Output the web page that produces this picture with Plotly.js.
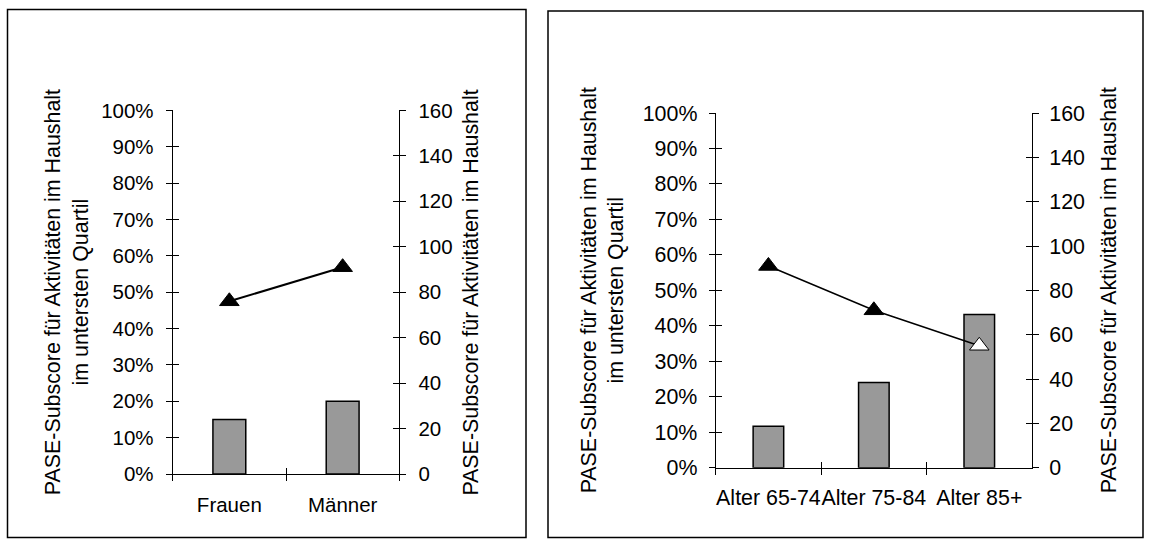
<!DOCTYPE html>
<html>
<head>
<meta charset="utf-8">
<script src="https://cdn.plot.ly/plotly-3.0.1.min.js"></script>
<style>
  html, body { margin: 0; padding: 0; background: #ffffff; }
  #chart { width: 1150px; height: 544px; }
</style>
</head>
<body>
<div id="chart"></div>
<script>
// Panel 1: Geschlecht
const sexCategories = ['Frauen', 'Männer'];
const sexQuartilPct = [15, 20];          // Anteil im untersten Quartil (%)
const sexSubscore = [76, 91];            // PASE-Subscore Haushalt

// Panel 2: Altersgruppen
const ageCategories = ['Alter 65-74', 'Alter 75-84', 'Alter 85+'];
const ageQuartilPct = [11.7, 24, 43.2];  // Anteil im untersten Quartil (%)
const ageSubscore = [91, 71, 55];        // PASE-Subscore Haushalt
const ageMarkerFill = ['black', 'black', 'white'];

const titleLeft = 'PASE-Subscore für Aktivitäten im Haushalt<br>im untersten Quartil';
const titleRight = 'PASE-Subscore für Aktivitäten im Haushalt';

// pixel -> paper helpers (margins are zero, so paper == page)
const W = 1150, H = 544;
const fx = v => v / W;
const fy = v => 1 - v / H;

const FONT = '"Liberation Sans", Arial, sans-serif';
const tickFontA = { family: FONT, size: 20.5, color: '#000000' };
const tickFontB = { family: FONT, size: 21.4, color: '#000000' };
const titleFont = { family: FONT, size: 21.4, color: '#000000' };

function mainAxis(extra) {
  return Object.assign({
    showgrid: false, zeroline: false,
    showline: true, linecolor: '#000000', linewidth: 1,
    ticks: 'outside', ticklen: 6, tickwidth: 1, tickcolor: '#000000',
    tickfont: tickFontA, tickangle: 0, automargin: false, fixedrange: true
  }, extra);
}
// second set of ticks pointing inward, so tick marks cross the axis line
function innerTicks(extra) {
  return Object.assign({
    showgrid: false, zeroline: false, showline: false,
    ticks: 'inside', ticklen: 6, tickwidth: 1, tickcolor: '#000000',
    showticklabels: false, automargin: false, fixedrange: true
  }, extra);
}
// empty trace that only registers an axis pair so its ticks get drawn
const tickHolder = (xa, ya) => ({
  type: 'scatter', mode: 'markers', x: [], y: [], xaxis: xa, yaxis: ya,
  hoverinfo: 'skip', showlegend: false
});

const traces = [
  {
    type: 'bar', x: sexCategories, y: sexQuartilPct,
    xaxis: 'x', yaxis: 'y',
    marker: { color: '#999999', line: { color: '#000000', width: 1.5 } },
    hoverinfo: 'skip'
  },
  {
    type: 'scatter', mode: 'lines+markers', x: sexCategories, y: sexSubscore,
    xaxis: 'x', yaxis: 'y2',
    line: { color: '#000000', width: 2 },
    marker: { symbol: 'triangle-up', size: 17, color: '#000000', line: { color: '#000000', width: 1 } },
    hoverinfo: 'skip'
  },
  {
    type: 'bar', x: ageCategories, y: ageQuartilPct,
    xaxis: 'x2', yaxis: 'y3',
    marker: { color: '#999999', line: { color: '#000000', width: 1.5 } },
    hoverinfo: 'skip'
  },
  {
    type: 'scatter', mode: 'lines+markers', x: ageCategories, y: ageSubscore,
    xaxis: 'x2', yaxis: 'y4',
    line: { color: '#000000', width: 1.5 },
    marker: { symbol: 'triangle-up', size: 17, color: ageMarkerFill, line: { color: '#000000', width: 1 } },
    hoverinfo: 'skip'
  },
  tickHolder('x3', 'y5'),
  tickHolder('x', 'y6'),
  tickHolder('x4', 'y7'),
  tickHolder('x2', 'y8')
];

const leftX = [fx(172.7), fx(399.3)];
const leftY = [fy(474), fy(110.4)];
const rightX = [fx(715.7), fx(1032)];
const rightY = [fy(467.7), fy(113)];

const layout = {
  width: W, height: H,
  margin: { l: 0, r: 0, t: 0, b: 0, pad: 0 },
  paper_bgcolor: '#ffffff', plot_bgcolor: 'rgba(0,0,0,0)',
  showlegend: false, bargap: 0.71,
  font: { family: FONT, color: '#000000' },

  xaxis: mainAxis({ domain: leftX, anchor: 'y', type: 'category', range: [-0.5, 1.5],
    tickson: 'boundaries', ticklabelstandoff: 12 }),
  yaxis: mainAxis({ domain: leftY, anchor: 'x', range: [0, 100], dtick: 10, ticksuffix: '%',
    ticklabelstandoff: 8 }),
  yaxis2: mainAxis({ overlaying: 'y', side: 'right', anchor: 'x', range: [0, 160], dtick: 20,
    ticklabelstandoff: 8 }),
  xaxis3: innerTicks({ overlaying: 'x', anchor: 'y', type: 'linear', range: [-0.5, 1.5],
    tick0: -0.5, dtick: 1 }),
  yaxis5: innerTicks({ overlaying: 'y', anchor: 'x', range: [0, 100], dtick: 10 }),
  yaxis6: innerTicks({ overlaying: 'y', side: 'right', anchor: 'x', range: [0, 160], dtick: 20 }),

  xaxis2: mainAxis({ domain: rightX, anchor: 'y3', type: 'category', range: [-0.5, 2.5],
    tickson: 'boundaries', ticklabelstandoff: 11, tickfont: tickFontB }),
  yaxis3: mainAxis({ domain: rightY, anchor: 'x2', range: [0, 100], dtick: 10, ticksuffix: '%',
    ticklabelstandoff: 7, tickfont: tickFontB }),
  yaxis4: mainAxis({ overlaying: 'y3', side: 'right', anchor: 'x2', range: [0, 160], dtick: 20,
    ticklabelstandoff: 6, tickfont: tickFontB }),
  xaxis4: innerTicks({ overlaying: 'x2', anchor: 'y3', type: 'linear', range: [-0.5, 2.5],
    tick0: -0.5, dtick: 1 }),
  yaxis7: innerTicks({ overlaying: 'y3', anchor: 'x2', range: [0, 100], dtick: 10 }),
  yaxis8: innerTicks({ overlaying: 'y3', side: 'right', anchor: 'x2', range: [0, 160], dtick: 20 }),

  annotations: [
    { text: titleLeft, x: fx(67), y: (leftY[0] + leftY[1]) / 2 },
    { text: titleRight, x: fx(471.4), y: (leftY[0] + leftY[1]) / 2 },
    { text: titleLeft, x: fx(603), y: (rightY[0] + rightY[1]) / 2 },
    { text: titleRight, x: fx(1109), y: (rightY[0] + rightY[1]) / 2 }
  ].map(a => Object.assign({
    xref: 'paper', yref: 'paper', xanchor: 'center', yanchor: 'middle',
    textangle: -90, showarrow: false, font: titleFont, align: 'center'
  }, a)),

  shapes: [
    { x0: fx(7.5), x1: fx(526), y0: fy(537.5), y1: fy(9.5) },
    { x0: fx(548), x1: fx(1143), y0: fy(537.5), y1: fy(11) }
  ].map(s => Object.assign({
    type: 'rect', xref: 'paper', yref: 'paper',
    line: { color: '#000000', width: 1.5 }, fillcolor: 'rgba(0,0,0,0)'
  }, s))
};

Plotly.newPlot('chart', traces, layout, { staticPlot: true, displayModeBar: false });
</script>
</body>
</html>
